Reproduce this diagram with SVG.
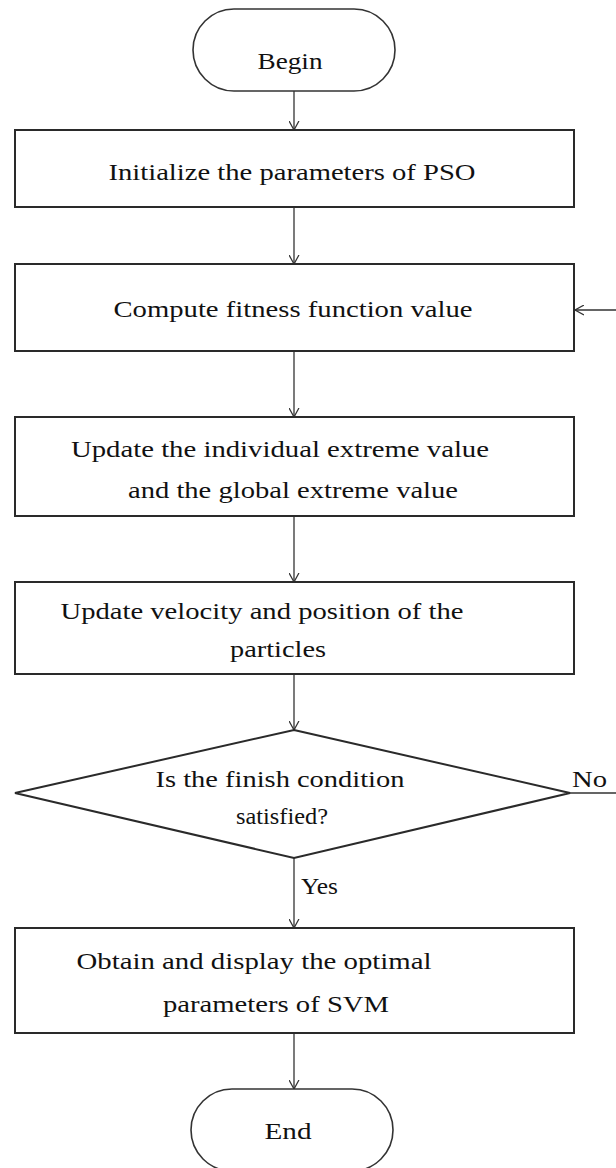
<svg xmlns="http://www.w3.org/2000/svg" width="616" height="1168" viewBox="0 0 616 1168">
<defs>
<marker id="arr" viewBox="0 0 10 12" refX="10" refY="6" markerWidth="9" markerHeight="11" markerUnits="userSpaceOnUse" orient="auto">
<path d="M0,0.5 L10,6 L0,11.5" fill="none" stroke="#333" stroke-width="1.4"/>
</marker>
</defs>
<style>
.node{fill:#fff;stroke:#2a2a2a;stroke-width:2}
.term{fill:#fff;stroke:#333;stroke-width:1.6}
.t{font-family:"Liberation Serif","DejaVu Serif",serif;font-size:24px;fill:#111;text-anchor:middle}
.lbl{font-family:"Liberation Serif","DejaVu Serif",serif;font-size:24px;fill:#111}
.c{fill:none;stroke:#333;stroke-width:1.3;marker-end:url(#arr)}
</style>
<rect width="616" height="1168" fill="#fff"/>
<g id="connectors">
<path class="c" d="M294,91 L294,130"/>
<path class="c" d="M294,207 L294,264"/>
<path class="c" d="M294,351 L294,417"/>
<path class="c" d="M294,516 L294,582"/>
<path class="c" d="M294,674 L294,730"/>
<path class="c" d="M294,858 L294,928"/>
<path class="c" d="M294,1033 L294,1089"/>
<path class="c" d="M570,793 L640,793 L640,310 L575,310"/>
<text class="lbl" x="301" y="894" textLength="37" lengthAdjust="spacingAndGlyphs">Yes</text>
<text class="lbl" x="572" y="787" textLength="35" lengthAdjust="spacingAndGlyphs">No</text>
</g>
<g id="begin">
<rect class="term" x="193" y="9" width="202" height="82" rx="41" ry="41"/>
<text class="t" x="290" y="69" textLength="65" lengthAdjust="spacingAndGlyphs">Begin</text>
</g>
<g id="init">
<rect class="node" x="15" y="130" width="559" height="77"/>
<text class="t" x="292" y="180" textLength="367" lengthAdjust="spacingAndGlyphs">Initialize the parameters of PSO</text>
</g>
<g id="compute">
<rect class="node" x="15" y="264" width="559" height="87"/>
<text class="t" x="293" y="317" textLength="359" lengthAdjust="spacingAndGlyphs">Compute fitness function value</text>
</g>
<g id="update">
<rect class="node" x="15" y="417" width="559" height="99"/>
<text class="t" x="280" y="457" textLength="418" lengthAdjust="spacingAndGlyphs">Update the individual extreme value</text>
<text class="t" x="293" y="498" textLength="330" lengthAdjust="spacingAndGlyphs">and the global extreme value</text>
</g>
<g id="velocity">
<rect class="node" x="15" y="582" width="559" height="92"/>
<text class="t" x="262" y="619" textLength="403" lengthAdjust="spacingAndGlyphs">Update velocity and position of the</text>
<text class="t" x="278" y="657" textLength="96" lengthAdjust="spacingAndGlyphs">particles</text>
</g>
<g id="decision">
<polygon class="node" points="294,730 570,793 294,858 15,793"/>
<text class="t" x="280" y="787" textLength="249" lengthAdjust="spacingAndGlyphs">Is the finish condition</text>
<text class="t" x="282" y="824" textLength="92" lengthAdjust="spacingAndGlyphs">satisfied?</text>
</g>
<g id="obtain">
<rect class="node" x="15" y="928" width="559" height="105"/>
<text class="t" x="254" y="969" textLength="355" lengthAdjust="spacingAndGlyphs">Obtain and display the optimal</text>
<text class="t" x="276" y="1012" textLength="226" lengthAdjust="spacingAndGlyphs">parameters of SVM</text>
</g>
<g id="end">
<rect class="term" x="191" y="1089" width="202" height="82" rx="41" ry="41"/>
<text class="t" x="288" y="1139" textLength="47" lengthAdjust="spacingAndGlyphs">End</text>
</g>
</svg>
